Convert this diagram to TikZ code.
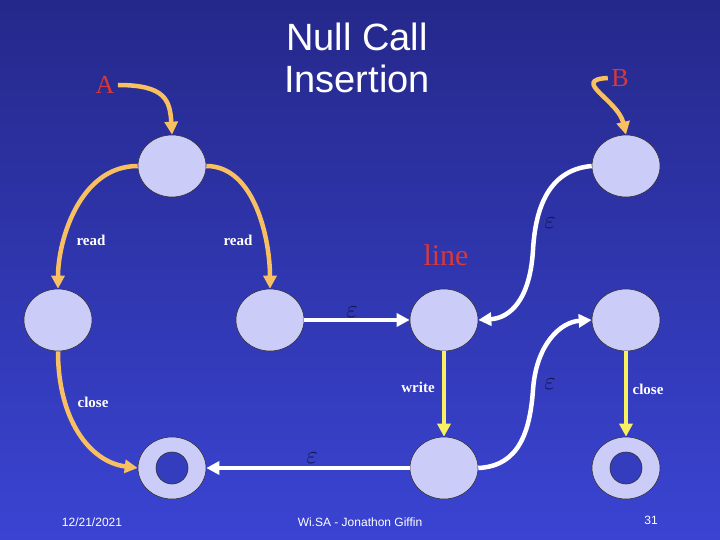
\documentclass[tikz,border=0pt]{standalone}
\usepackage{fontspec}
\setmainfont{Liberation Serif}
\newfontfamily\sansf{Liberation Sans}
\usetikzlibrary{arrows.meta,shapes.geometric}
\definecolor{bgtop}{HTML}{25288A}
\definecolor{bgbot}{HTML}{3A44D2}
\definecolor{st}{HTML}{CCCCF8}
\definecolor{org}{HTML}{F8C060}
\definecolor{yel}{HTML}{F8F060}
\definecolor{eps}{HTML}{141450}
\definecolor{redt}{HTML}{D83838}
\begin{document}
\begin{tikzpicture}[x=1pt,y=-1pt,
 state/.style={ellipse,draw=black!80,line width=0.6pt,fill=st,minimum width=68pt,minimum height=62pt,inner sep=0pt},
 fin/.style={state,path picture={\fill[bgbot!90!black,draw=black!80,line width=0.6pt] (path picture bounding box.center) circle (16pt);}},
 arr/.style={line width=4.5pt,-{Triangle[width=13pt,length=13pt]}},
 oa/.style={arr,org},
 ya/.style={arr,yel},
 wa/.style={arr,white},
 lab/.style={white,font=\bfseries\fontsize{15}{15}\selectfont},
 ep/.style={eps,font=\fontsize{24}{24}\selectfont},
 ftr/.style={white,font=\sansf\fontsize{12}{12}\selectfont}]
\shade[top color=bgtop,bottom color=bgbot] (0,0) rectangle (720,540);
\useasboundingbox (0,0) rectangle (720,540);
\node[state] (n1) at (172,166) {};
\node[state] (n2) at (58,320) {};
\node[state] (n3) at (270,320) {};
\node[state] (n4) at (444,320) {};
\node[state] (n5) at (444,468) {};
\node[state] (nB) at (626,166) {};
\node[state] (n6) at (626,320) {};
\node[fin] (n7) at (626,468) {};
\node[fin] (n8) at (172,468) {};
\node[redt,font=\fontsize{26}{26}\selectfont] (A) at (105,85) {A};
\node[redt,font=\fontsize{26}{26}\selectfont] (B) at (620,78) {B};
\node[white,font=\sansf\fontsize{38}{42}\selectfont,align=center] (t) at (357,58) {Null Call\\Insertion};
\node[redt,font=\fontsize{30}{30}\selectfont] (line) at (446,255) {line};
\draw[oa] (A.east) .. controls (165,85) and (170,100) .. (n1.north);
\draw[oa] (B.west) .. controls (570,80) and (618,100) .. (nB.north);
\draw[oa] (n1.west) .. controls (80,166) and (58,240) .. (n2.north);
\draw[oa] (n1.east) .. controls (255,166) and (270,240) .. (n3.north);
\draw[oa] (n2.south) .. controls (58,420) and (90,462) .. (n8.west);
\draw[wa] (n3.east) -- (n4.west);
\draw[wa] (nB.west) .. controls (545,170) and (535,215) .. (533,250) .. controls (530,300) and (510,318) .. (n4.east);
\draw[wa] (n5.east) .. controls (520,466) and (530,430) .. (533,390) .. controls (536,345) and (560,322) .. (n6.west);
\draw[ya] (n4.south) -- (n5.north);
\draw[ya] (n6.south) -- (n7.north);
\draw[wa] (n5.west) -- (n8.east);
\node[lab] (l1) at (91,240) {read};
\node[lab] (l2) at (238,240) {read};
\node[lab] (l3) at (93,402) {close};
\node[lab] (l4) at (418,387) {write};
\node[lab] (l5) at (648,389) {close};
\node[ep] (e1) at (352,312) {$\varepsilon$};
\node[ep] (e2) at (550,223) {$\varepsilon$};
\node[ep] (e3) at (550,384) {$\varepsilon$};
\node[ep] (e4) at (312,458) {$\varepsilon$};
\node[ftr] (f1) at (92,522) {12/21/2021};
\node[ftr] (f2) at (360,522) {Wi.SA - Jonathon Giffin};
\node[ftr] (f3) at (651,520) {31};
\end{tikzpicture}
\end{document}
